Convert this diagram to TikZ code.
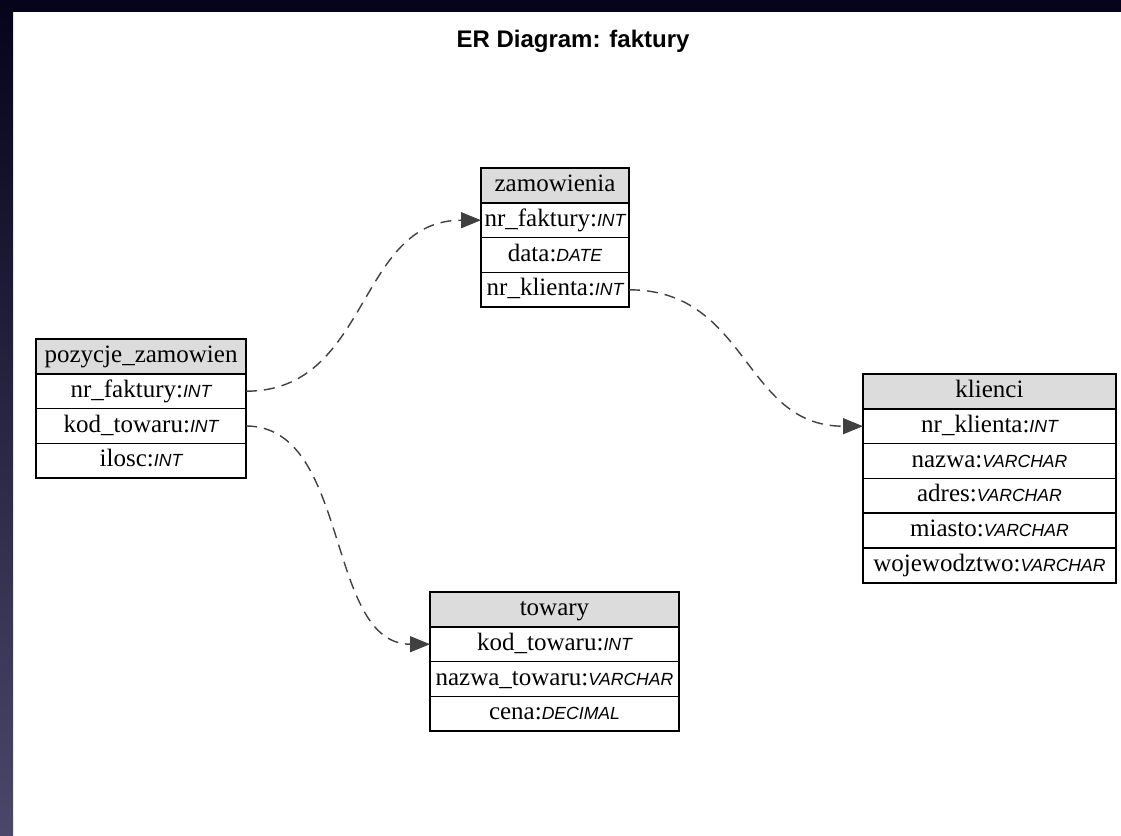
\documentclass[tikz,border=0pt]{standalone}
\usepackage{fontspec}
\setmainfont{Liberation Serif}
\newfontfamily\typefont{Liberation Sans}
\usetikzlibrary{positioning,arrows.meta}
\definecolor{headgray}{HTML}{DCDCDC}
\definecolor{linkgray}{HTML}{404040}
\definecolor{frametop}{HTML}{05041B}
\definecolor{framelow}{HTML}{4A4868}
\newcommand{\fld}[2]{#1:{\typefont\itshape\fontsize{8.8}{10}\selectfont #2}}

\begin{document}
\begin{tikzpicture}[
        x=0.5pt, y=-0.5pt,
        cell/.style={
        draw,
        line width=0.75pt,
        outer sep=0pt,
        inner sep=0pt,
        minimum height=17.4pt,
        text height=9pt,
        text depth=3pt,
        font=\fontsize{12.5}{14}\selectfont
      },
      head/.style={cell, fill=headgray},
      link/.style={
        draw=linkgray,
        line width=0.7pt,
        dash pattern=on 5.5pt off 3.5pt,
        -{Triangle[length=10pt,width=8pt]}
      },
      node distance=0pt
    ]

    \useasboundingbox (0,0) rectangle (1121,836);
    \fill[frametop] (0,0) rectangle (1121,12);
    \shade[top color=frametop, bottom color=framelow] (0,0) rectangle (13,836);

    \node[font=\typefont\bfseries\fontsize{12}{14}\selectfont] (title) at (573,41) {ER Diagram: faktury};

    \node[head, minimum width=74pt, anchor=north] (zam) at (555,168) {zamowienia};
    \node[cell, minimum width=74pt, below=of zam] (zam1) {\fld{nr\_faktury}{INT}};
    \node[cell, minimum width=74pt, below=of zam1] (zam2) {\fld{data}{DATE}};
    \node[cell, minimum width=74pt, below=of zam2] (zam3) {\fld{nr\_klienta}{INT}};

    \node[head, minimum width=105pt, anchor=north] (poz) at (141,339) {pozycje\_zamowien};
    \node[cell, minimum width=105pt, below=of poz] (poz1) {\fld{nr\_faktury}{INT}};
    \node[cell, minimum width=105pt, below=of poz1] (poz2) {\fld{kod\_towaru}{INT}};
    \node[cell, minimum width=105pt, below=of poz2] (poz3) {\fld{ilosc}{INT}};

    \node[head, minimum width=126.5pt, anchor=north] (kli) at (989.5,374) {klienci};
    \node[cell, minimum width=126.5pt, below=of kli] (kli1) {\fld{nr\_klienta}{INT}};
    \node[cell, minimum width=126.5pt, below=of kli1] (kli2) {\fld{nazwa}{VARCHAR}};
    \node[cell, minimum width=126.5pt, below=of kli2] (kli3) {\fld{adres}{VARCHAR}};
    \node[cell, minimum width=126.5pt, below=of kli3] (kli4) {\fld{miasto}{VARCHAR}};
    \node[cell, minimum width=126.5pt, below=of kli4] (kli5) {\fld{wojewodztwo}{VARCHAR}};

    \node[head, minimum width=124.5pt, anchor=north] (tow) at (554.5,592) {towary};
    \node[cell, minimum width=124.5pt, below=of tow] (tow1) {\fld{kod\_towaru}{INT}};
    \node[cell, minimum width=124.5pt, below=of tow1] (tow2) {\fld{nazwa\_towaru}{VARCHAR}};
    \node[cell, minimum width=124.5pt, below=of tow2] (tow3) {\fld{cena}{DECIMAL}};

    \draw[link] (poz1.east) .. controls +(125,0) and +(-125,0) .. (zam1.west);
    \draw[link] (zam3.east) .. controls +(120,0) and +(-120,0) .. (kli1.west);
    \draw[link] (poz2.east) .. controls +(105,0) and +(-105,0) .. (tow1.west);

  \end{tikzpicture}
\end{document}
